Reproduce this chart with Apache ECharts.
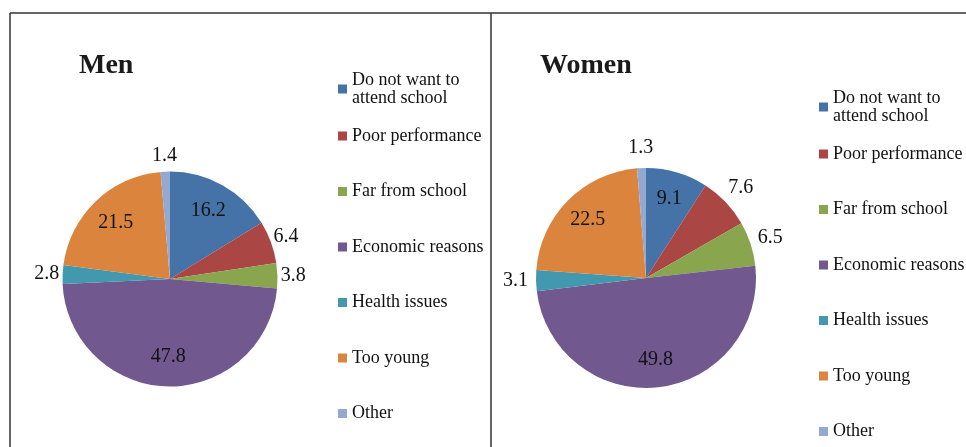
<!DOCTYPE html>
<html>
<head>
<meta charset="utf-8">
<script src="https://cdn.jsdelivr.net/npm/echarts@6/dist/echarts.min.js"></script>
<style>
html,body{margin:0;padding:0;background:#fff;}
#chart{width:966px;height:447px;}
</style>
</head>
<body>
<div id="chart"></div>
<script>
// ---- data ----
const categories = ['Do not want to attend school', 'Poor performance', 'Far from school', 'Economic reasons', 'Health issues', 'Too young', 'Other'];
const menValues = [16.2, 6.4, 3.8, 47.8, 2.8, 21.5, 1.4];
const womenValues = [9.1, 7.6, 6.5, 49.8, 3.1, 22.5, 1.3];
const panelTitles = ['Men', 'Women'];
const colors = ['#4572A7', '#AA4643', '#89A54E', '#71588F', '#4198AF', '#DB843D', '#93A9CF'];
// which slice labels sit inside the pie (others outside)
const insideLabel = [true, false, false, true, false, true, false];

const serif = '"Liberation Serif", "Times New Roman", serif';
const chart = echarts.init(document.getElementById('chart'), null, {renderer: 'canvas'});

function mainPie(values, center, r) {
  return {
    type: 'pie', center: center, radius: [0, r], startAngle: 90, clockwise: true,
    animation: false, silent: true,
    label: {show: false}, labelLine: {show: false},
    itemStyle: {borderWidth: 0},
    data: categories.map((c, i) => ({name: c, value: values[i], itemStyle: {color: colors[i]}}))
  };
}
function labelPie(values, center, r, showInside) {
  return {
    type: 'pie', center: center, radius: [0, r], startAngle: 90, clockwise: true,
    animation: false, silent: true, z: 5,
    itemStyle: {color: 'rgba(0,0,0,0)', borderWidth: 0},
    labelLine: {show: false},
    label: {show: true, position: 'inside', fontFamily: serif, fontSize: 20, color: '#111',
            formatter: p => p.value.toFixed(1)},
    data: categories.map((c, i) => ({
      name: c, value: values[i],
      label: {show: insideLabel[i] === showInside}
    }))
  };
}
function legend(left, top) {
  return {
    orient: 'vertical', left: left, top: top, height: 430, padding: 0, itemGap: 2.5,
    icon: 'rect', itemWidth: 9, itemHeight: 9, align: 'left', selectedMode: false,
    textStyle: {fontFamily: serif, fontSize: 18, color: '#111'},
    formatter: n => n === categories[0] ? 'Do not want to\nattend school' : n,
    data: categories.map((c, i) => ({name: c, textStyle: {lineHeight: i === 0 ? 18 : 53}}))
  };
}

const menC = [170, 279], menR = 107.5;
const womC = [646, 278], womR = 110;

chart.setOption({
  animation: false,
  title: [
    {text: panelTitles[0], left: 79, top: 52, padding: 0,
     textStyle: {fontFamily: serif, fontSize: 28, fontWeight: 'bold', color: '#1a1a1a'}},
    {text: panelTitles[1], left: 540, top: 52, padding: 0,
     textStyle: {fontFamily: serif, fontSize: 28, fontWeight: 'bold', color: '#1a1a1a'}}
  ],
  legend: [legend(338, 71), legend(819, 89)],
  series: [
    mainPie(menValues, menC, menR),
    mainPie(womenValues, womC, womR),
    labelPie(menValues, menC, menR * 2 * 0.70, true),
    labelPie(menValues, menC, menR * 2 * 1.12, false),
    labelPie(womenValues, womC, womR * 2 * 0.72, true),
    labelPie(womenValues, womC, womR * 2 * 1.16, false)
  ],
  graphic: [
    {type: 'line', shape: {x1: 10, y1: 13, x2: 966, y2: 13}, style: {stroke: '#333', lineWidth: 1.5}},
    {type: 'line', shape: {x1: 10, y1: 13, x2: 10, y2: 447}, style: {stroke: '#333', lineWidth: 1.5}},
    {type: 'line', shape: {x1: 491, y1: 13, x2: 491, y2: 447}, style: {stroke: '#333', lineWidth: 1.5}}
  ]
});
</script>
</body>
</html>
